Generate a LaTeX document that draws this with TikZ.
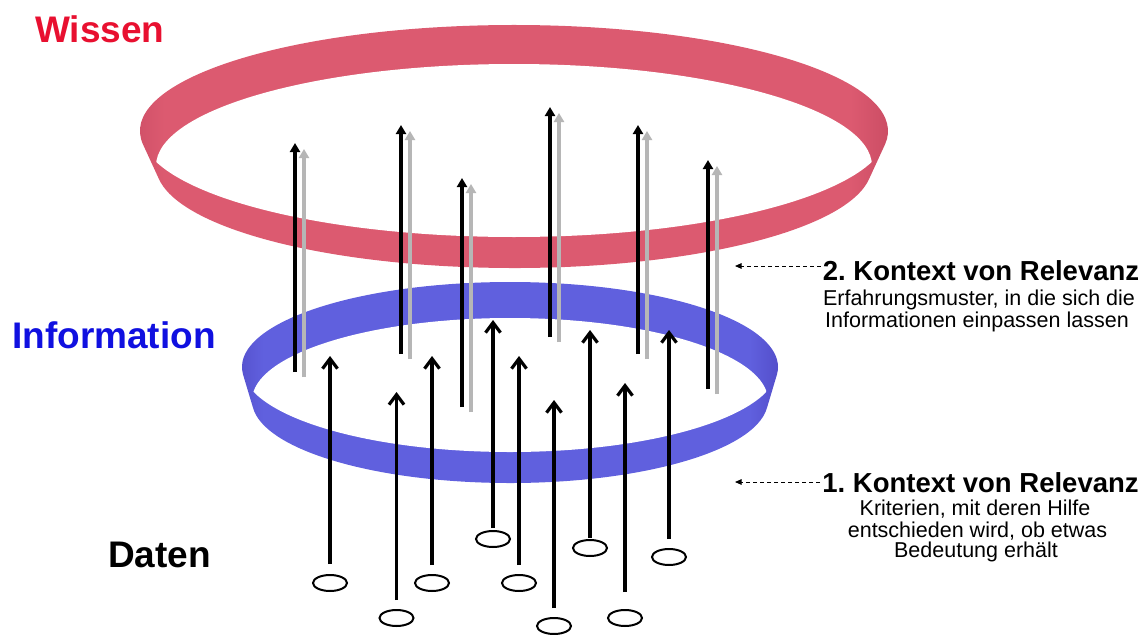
\documentclass[tikz,border=0pt]{standalone}
\usepackage{fontspec}
\setmainfont{Liberation Sans}
\usetikzlibrary{arrows.meta,shapes.geometric}
\frenchspacing

\definecolor{ringred}{RGB}{220,90,112}
\definecolor{ringreddark}{RGB}{200,74,98}
\definecolor{ringblue}{RGB}{96,96,222}
\definecolor{ringbluedark}{RGB}{82,76,200}
\definecolor{wissenred}{RGB}{232,16,48}
\definecolor{infoblue}{RGB}{16,16,224}
\definecolor{ghost}{RGB}{182,182,182}

% band shadings: slightly darker where the band turns away at both ends
\pgfdeclarehorizontalshading{redband}{100bp}{color(0bp)=(ringreddark); color(25bp)=(ringreddark);
  color(28bp)=(ringred); color(72bp)=(ringred); color(75bp)=(ringreddark); color(100bp)=(ringreddark)}
\pgfdeclarehorizontalshading{blueband}{100bp}{color(0bp)=(ringbluedark); color(25bp)=(ringbluedark);
  color(28bp)=(ringblue); color(72bp)=(ringblue); color(75bp)=(ringbluedark); color(100bp)=(ringbluedark)}

\tikzset{
  liftarrow/.style={line width=3.5pt, -{Triangle[length=9pt,width=10pt]}},
  blackarrow/.style={liftarrow, draw=black},
  greyarrow/.style={liftarrow, draw=ghost},
  dataarrow/.style={line width=3.2pt, -{Straight Barb[length=10pt,width=15pt]}},
  datum/.style={draw, ellipse, line width=2pt, minimum width=34pt, minimum height=16pt, inner sep=0pt},
  levelname/.style={inner sep=0pt, anchor=base west, font=\bfseries\fontsize{37}{40}\selectfont},
  ctxtitle/.style={inner sep=0pt, anchor=base, font=\bfseries\fontsize{27.5}{30}\selectfont},
  ctxline/.style={inner sep=0pt, anchor=base, font=\fontsize{21.5}{24}\selectfont},
  refarrow/.style={line width=0.9pt, dash pattern=on 4pt off 3pt, -{Triangle[length=6.5pt,width=5.5pt]}},
}

\begin{document}
\begin{tikzpicture}[x=1pt,y=-1pt]
\useasboundingbox (0,0) rectangle (1147,634);

% ---- Wissen ring (upper rim + lower rim, hole = overlap of both rims)
\shade[shading=redband]
  ([shift={(514,131)}]173:374 and 106) arc[start angle=173, end angle=367, x radius=374, y radius=106]
  -- ([shift={(514,166)}]7:358 and 102) arc[start angle=7, end angle=173, x radius=358, y radius=102] -- cycle;
\begin{scope}
  \clip (514,131) ellipse [x radius=374, y radius=106];
  \fill[white] (514,166) ellipse [x radius=358, y radius=102];
\end{scope}

% ---- Information ring
\shade[shading=blueband]
  ([shift={(510,367)}]175:268 and 85) arc[start angle=175, end angle=365, x radius=268, y radius=85]
  -- ([shift={(510,400.5)}]5:258 and 82.5) arc[start angle=5, end angle=175, x radius=258, y radius=82.5] -- cycle;
\begin{scope}
  \clip (510,367) ellipse [x radius=268, y radius=85];
  \fill[white] (510,400.5) ellipse [x radius=258, y radius=82.5];
\end{scope}

% ---- information lifted to knowledge (black with grey shadow)
\foreach \x/\b/\t [count=\i] in {295/372/143, 401/354/125, 462/407/178, 550/337/107, 638/354/125, 708/389/160} {
  \coordinate (kb\i) at (\x,\b);
  \coordinate (kt\i) at (\x,\t);
  \coordinate (gb\i) at (\x+9,\b+5);
  \coordinate (gt\i) at (\x+9,\t+6);
}
\foreach \i in {1,...,6} \draw[greyarrow] (gb\i) -- (gt\i);
\foreach \i in {1,...,6} \draw[blackarrow] (kb\i) -- (kt\i);

% ---- data items rising to information
\foreach \n/\x/\ey/\t/\g in {a/330/583/356/10, b/396.5/618/392/9, c/432/583/356/9, d/493/539/320/2,
    e/519/583/356/9, f/554/626/400/9, g/590/548/330/1, h/625/618/383/17, i/669/557/330/9} {
  \node[datum] (e\n) at (\x,\ey) {};
  \coordinate (t\n) at (\x,\t);
  \draw[dataarrow, shorten <=\g pt] (e\n.north) -- (t\n);
}

% ---- level names
\node[levelname, text=wissenred] (wissen) at (35,42) {Wissen};
\node[levelname, text=infoblue] (information) at (12,348) {Information};
\node[levelname, text=black] (daten) at (108,567) {Daten};

% ---- contexts of relevance
\node[ctxtitle] (ctx2) at (981,280) {2. Kontext von Relevanz};
\node[ctxline] (ctx2a) at (979,305) {Erfahrungsmuster, in die sich die};
\node[ctxline] (ctx2b) at (977,327) {Informationen einpassen lassen};
\coordinate (p2) at (735,266);
\draw[refarrow, shorten <=2pt] (ctx2.west |- p2) -- (p2);

\node[ctxtitle] (ctx1) at (980.5,492) {1. Kontext von Relevanz};
\node[ctxline] (ctx1a) at (975,515) {Kriterien, mit deren Hilfe};
\node[ctxline] (ctx1b) at (977.5,537) {entschieden wird, ob etwas};
\node[ctxline] (ctx1c) at (976,557) {Bedeutung erhält};
\coordinate (p1) at (735,482);
\draw[refarrow, shorten <=2pt] (ctx1.west |- p1) -- (p1);
\end{tikzpicture}
\end{document}
